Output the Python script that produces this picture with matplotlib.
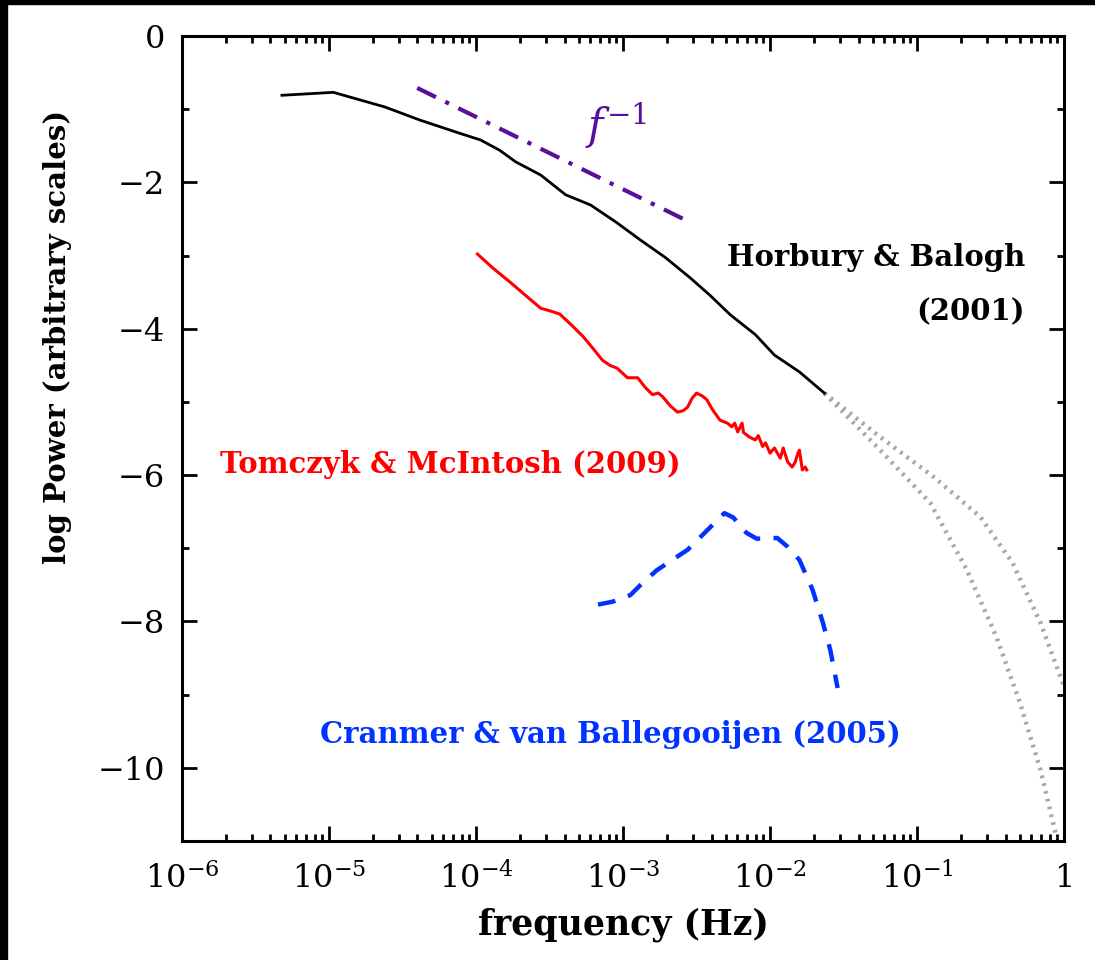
import numpy as np
import matplotlib
matplotlib.use("Agg")
import matplotlib.pyplot as plt
from matplotlib.patches import Rectangle
from matplotlib.ticker import LogLocator, MultipleLocator, FixedLocator

# ---- datos (log10 f, log Power) ----
horbury_logf = [-5.32, -4.97, -4.62, -4.38, -4.11, -3.97, -3.84, -3.73, -3.56,
                -3.39, -3.22, -3.05, -2.88, -2.71, -2.54, -2.41, -2.27, -2.10,
                -1.97, -1.80, -1.63]
horbury_pow = [-0.81, -0.77, -0.97, -1.15, -1.33, -1.42, -1.56, -1.72, -1.90,
               -2.17, -2.31, -2.54, -2.79, -3.03, -3.31, -3.54, -3.81, -4.08,
               -4.36, -4.59, -4.88]

ext_upper_logf = [-1.63, -1.25, -0.89, -0.57, -0.35, -0.16, 0.0]
ext_upper_pow = [-4.88, -5.48, -6.02, -6.57, -7.20, -8.02, -8.89]
ext_lower_logf = [-1.63, -1.25, -0.91, -0.66, -0.46, -0.30, -0.16, -0.05]
ext_lower_pow = [-4.88, -5.66, -6.38, -7.30, -8.21, -9.11, -10.03, -10.96]

tomczyk_logf = [-3.99, -3.88, -3.77, -3.66, -3.56, -3.49, -3.43, -3.35, -3.27,
                -3.20, -3.14, -3.09, -3.04, -2.97, -2.90, -2.85, -2.80, -2.76,
                -2.73, -2.68, -2.63, -2.59, -2.56, -2.53, -2.50, -2.46, -2.43,
                -2.39, -2.34, -2.29, -2.26, -2.24, -2.22, -2.19, -2.18, -2.14,
                -2.10, -2.08, -2.05, -2.03, -2.00, -1.97, -1.93, -1.91, -1.88,
                -1.85, -1.83, -1.81, -1.80, -1.78, -1.76, -1.75]
tomczyk_pow = [-2.98, -3.18, -3.36, -3.55, -3.72, -3.76, -3.80, -3.95, -4.11,
               -4.28, -4.43, -4.50, -4.54, -4.67, -4.67, -4.80, -4.90, -4.88,
               -4.93, -5.05, -5.14, -5.12, -5.07, -4.95, -4.88, -4.92, -4.97,
               -5.11, -5.25, -5.29, -5.34, -5.29, -5.41, -5.29, -5.42, -5.48,
               -5.52, -5.46, -5.61, -5.56, -5.70, -5.63, -5.77, -5.63, -5.82,
               -5.89, -5.83, -5.70, -5.66, -5.93, -5.89, -5.93]

cranmer_logf = [-3.17, -3.07, -2.95, -2.88, -2.77, -2.56, -2.39, -2.31, -2.25,
                -2.16, -2.09, -1.95, -1.88, -1.80, -1.71, -1.64, -1.59, -1.54]
cranmer_pow = [-7.77, -7.73, -7.64, -7.50, -7.30, -7.02, -6.68, -6.52, -6.58,
               -6.79, -6.87, -6.86, -6.98, -7.16, -7.57, -8.02, -8.39, -8.91]

pend_logf = [-4.40, -2.59]
pend_pow = [-0.71, -2.50]

plt.rcParams['font.family'] = 'DejaVu Serif'
plt.rcParams['mathtext.fontset'] = 'dejavuserif'

fig = plt.figure(figsize=(10.95, 9.6), dpi=100)
ax = fig.add_axes([0.1662, 0.124, 0.8055, 0.8385])

ax.plot(10 ** np.array(ext_upper_logf), ext_upper_pow, ls=(0, (0.6, 1.2)),
        color='#a8a8a8', lw=3.2)
ax.plot(10 ** np.array(ext_lower_logf), ext_lower_pow, ls=(0, (0.6, 1.2)),
        color='#a8a8a8', lw=3.2)
ax.plot(10 ** np.array(horbury_logf), horbury_pow, color='black', lw=2.0)
ax.plot(10 ** np.array(tomczyk_logf), tomczyk_pow, color='#ff0000', lw=2.2)
ax.plot(10 ** np.array(cranmer_logf), cranmer_pow, color='#0033ff', lw=3.2,
        ls=(0, (4, 3)))
ax.plot(10 ** np.array(pend_logf), pend_pow, color='#5a0f9b', lw=3.0,
        ls=(0, (5, 2.5, 1, 2.5)))

ax.set_xscale('log')
ax.set_xlim(1e-6, 1)
ax.set_ylim(-11, 0)

ax.xaxis.set_major_locator(FixedLocator([1e-6, 1e-5, 1e-4, 1e-3, 1e-2, 1e-1, 1]))
ax.xaxis.set_minor_locator(LogLocator(base=10, subs=np.arange(2, 10), numticks=20))
ax.set_xticklabels([r'$10^{-6}$', r'$10^{-5}$', r'$10^{-4}$', r'$10^{-3}$',
                    r'$10^{-2}$', r'$10^{-1}$', '1'])
ax.yaxis.set_minor_locator(MultipleLocator(1))
ax.set_yticks([-10, -8, -6, -4, -2, 0])
ax.set_yticklabels(['\u221210', '\u22128', '\u22126', '\u22124', '\u22122', '0'])

ax.tick_params(which='both', direction='in', top=True, right=True, width=2,
               labelsize=23)
ax.tick_params(axis='x', pad=16)
ax.tick_params(axis='y', pad=12)
ax.tick_params(which='major', length=11)
ax.tick_params(which='minor', length=5)
for s in ax.spines.values():
    s.set_linewidth(2.2)

ax.set_xlabel('frequency (Hz)', fontsize=25, fontweight='bold')
ax.xaxis.set_label_coords(0.5, -0.082)
ax.set_ylabel('log Power (arbitrary scales)', fontsize=21, fontweight='bold')
ax.yaxis.set_label_coords(-0.125, 0.626)

ax.text(10 ** -0.265, -3.03, 'Horbury & Balogh', ha='right', va='center',
        fontsize=21, fontweight='bold', color='black')
ax.text(10 ** -0.265, -3.77, '(2001)', ha='right', va='center',
        fontsize=21, fontweight='bold', color='black')
ax.text(10 ** -5.74, -5.86, 'Tomczyk & McIntosh (2009)', ha='left', va='center',
        fontsize=21, fontweight='bold', color='#ff0000')
ax.text(10 ** -5.06, -9.55, 'Cranmer & van Ballegooijen (2005)', ha='left',
        va='center', fontsize=21, fontweight='bold', color='#0033ff')
ax.text(10 ** -3.26, -1.22, r'$f^{-1}$', ha='left', va='center',
        fontsize=30, color='#5a0f9b')

# borde negro de la captura original
fig.add_artist(Rectangle((0, 0), 7 / 1095, 1, transform=fig.transFigure,
                         color='black', zorder=10))
fig.add_artist(Rectangle((0, 1 - 4 / 960), 1, 4 / 960, transform=fig.transFigure,
                         color='black', zorder=10))

fig.savefig('out.png', dpi=100)
